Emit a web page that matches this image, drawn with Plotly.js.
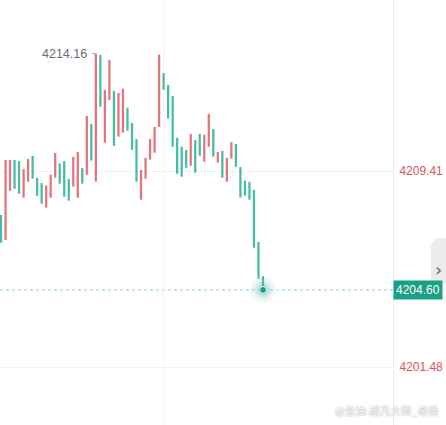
<!DOCTYPE html>
<html>
<head>
<meta charset="utf-8">
<script src="https://cdn.plot.ly/plotly-3.0.1.min.js"></script>
<style>html,body{margin:0;padding:0;background:#fff;}#chart{width:446px;height:425px;}</style>
</head>
<body>
<div id="chart"></div>
<script>
// candle opens / closes (index = time order)
const opens = [4207.63,4206.62,4208.61,4209.86,4209.81,4208.33,4208.98,4210.02,4209.13,4208.92,
  4207.93,4208.33,4209.14,4209.71,4209.81,4209.09,4208.78,4208.33,4209.53,4209.26,
  4211.31,4208.98,4214.10,4210.56,4212.28,4212.65,4210.80,4210.96,4211.97,4211.35,
  4210.70,4208.25,4209.10,4209.87,4210.15,4211.20,4213.37,4212.89,4212.44,4210.75,
  4210.39,4210.26,4209.62,4210.66,4210.91,4209.79,4210.39,4211.11,4209.75,4210.22,
  4208.98,4209.91,4210.50,4209.57,4209.02,4208.97,4208.64,4206.54,4205.16];
const closes = [4206.51,4209.86,4209.86,4208.69,4208.49,4209.49,4209.90,4209.10,4208.41,4208.09,
  4208.82,4209.26,4210.14,4208.90,4208.37,4208.21,4209.98,4210.18,4208.90,4211.64,
  4209.83,4214.16,4212.01,4212.69,4213.90,4210.43,4212.57,4212.74,4211.04,4210.27,
  4208.98,4209.45,4209.94,4210.70,4211.19,4214.12,4212.70,4211.53,4210.39,4209.30,
  4209.18,4209.54,4210.91,4209.34,4210.03,4210.87,4211.72,4209.99,4210.18,4209.14,
  4209.94,4210.58,4209.58,4208.33,4208.41,4208.25,4206.31,4205.05,4204.60];
const tickValues = [4209.41, 4201.48];
const tickLabels = ['4209.41', '4201.48'];
const lastPrice = 4204.60;
const highLabel = '4214.16';
const watermark = '@金油-超凡大师_老杨';

const RED = '#e5737b', GREEN = '#45bca4', TEAL = '#17a084';
const idx = opens.map((_, i) => i);
const base = opens.map((o, i) => Math.min(o, closes[i]));
const len = opens.map((o, i) => Math.abs(closes[i] - o));
const cols = opens.map((o, i) => closes[i] >= o ? RED : GREEN);
const last = idx.length - 1;
const highIdx = closes.indexOf(Math.max(...closes.map(Number)));

const traces = [
  {type: 'bar', x: idx, y: len, base: base, width: 0.5,
   marker: {color: cols, line: {width: 0}}, hoverinfo: 'skip'},
  {type: 'scatter', mode: 'markers', x: [last, last, last, last], y: [lastPrice, lastPrice, lastPrice, lastPrice],
   marker: {size: [26, 18, 12, 7], color: [TEAL, TEAL, TEAL, TEAL], opacity: [0.07, 0.12, 0.2, 1]},
   hoverinfo: 'skip'}
];

const layout = {
  width: 446, height: 425,
  margin: {l: 0, r: 53, t: 0, b: 0},
  paper_bgcolor: '#ffffff', plot_bgcolor: '#ffffff',
  showlegend: false,
  xaxis: {range: [-0.221, 86.78], showgrid: true, gridcolor: '#f3f3f5', gridwidth: 1,
          tickvals: [36], showticklabels: false, zeroline: false, ticks: '', showline: false},
  yaxis: {range: [4199.135, 4216.328], side: 'right', tickvals: tickValues, ticktext: tickLabels,
          tickfont: {family: 'Liberation Sans, Arial, sans-serif', size: 12, color: '#e0525b'},
          showgrid: true, gridcolor: '#f2f2f2', zeroline: false, ticks: '',
          showline: true, linecolor: '#ececec', linewidth: 1, ticklabelstandoff: 3},
  shapes: [
    {type: 'line', xref: 'paper', x0: 0, x1: 1, yref: 'y', y0: lastPrice, y1: lastPrice,
     line: {color: '#a3dccf', width: 1.2, dash: 'dot'}, layer: 'below'},
    {type: 'path', xref: 'paper', yref: 'paper',
     path: 'M 1.097,0.424 L 1.112,0.44 L 1.136,0.44 L 1.136,0.334 L 1.097,0.334 Z',
     fillcolor: '#ececee', line: {width: 0}},
    {type: 'line', xref: 'x', yref: 'y', x0: 20.2, x1: 20.85, y0: 4214.16, y1: 4214.16,
     line: {color: '#9a9aa5', width: 1, dash: 'dot'}}
  ],
  annotations: [
    {xref: 'paper', x: 1, xanchor: 'left', yref: 'y', y: lastPrice, yanchor: 'middle',
     text: lastPrice.toFixed(2), showarrow: false, bgcolor: '#1aa083', borderpad: 2, xshift: 0,
     font: {family: 'Liberation Sans, Arial, sans-serif', size: 12, color: '#ffffff'}},
    {xref: 'x', x: highIdx, xanchor: 'right', yref: 'y', y: 4214.16, yanchor: 'middle',
     text: highLabel, showarrow: false, xshift: -7,
     font: {family: 'Liberation Sans, Arial, sans-serif', size: 12.5, color: '#6b6b78'}},
    {xref: 'paper', yref: 'paper', x: 1.117, y: 0.367, xanchor: 'center', yanchor: 'middle',
     text: '›', showarrow: false, font: {family: 'DejaVu Sans, sans-serif', size: 18, color: '#666'}},
    {xref: 'paper', yref: 'paper', x: 1.12, y: 0.035, xanchor: 'right', yanchor: 'middle',
     text: watermark, showarrow: false,
     font: {family: 'Noto Sans CJK SC, sans-serif', size: 10.5, color: '#f4f4f4', shadow: '0 0 2px #9a9a9a'}}
  ]
};

Plotly.newPlot('chart', traces, layout, {displayModeBar: false, staticPlot: true});
</script>
</body>
</html>
